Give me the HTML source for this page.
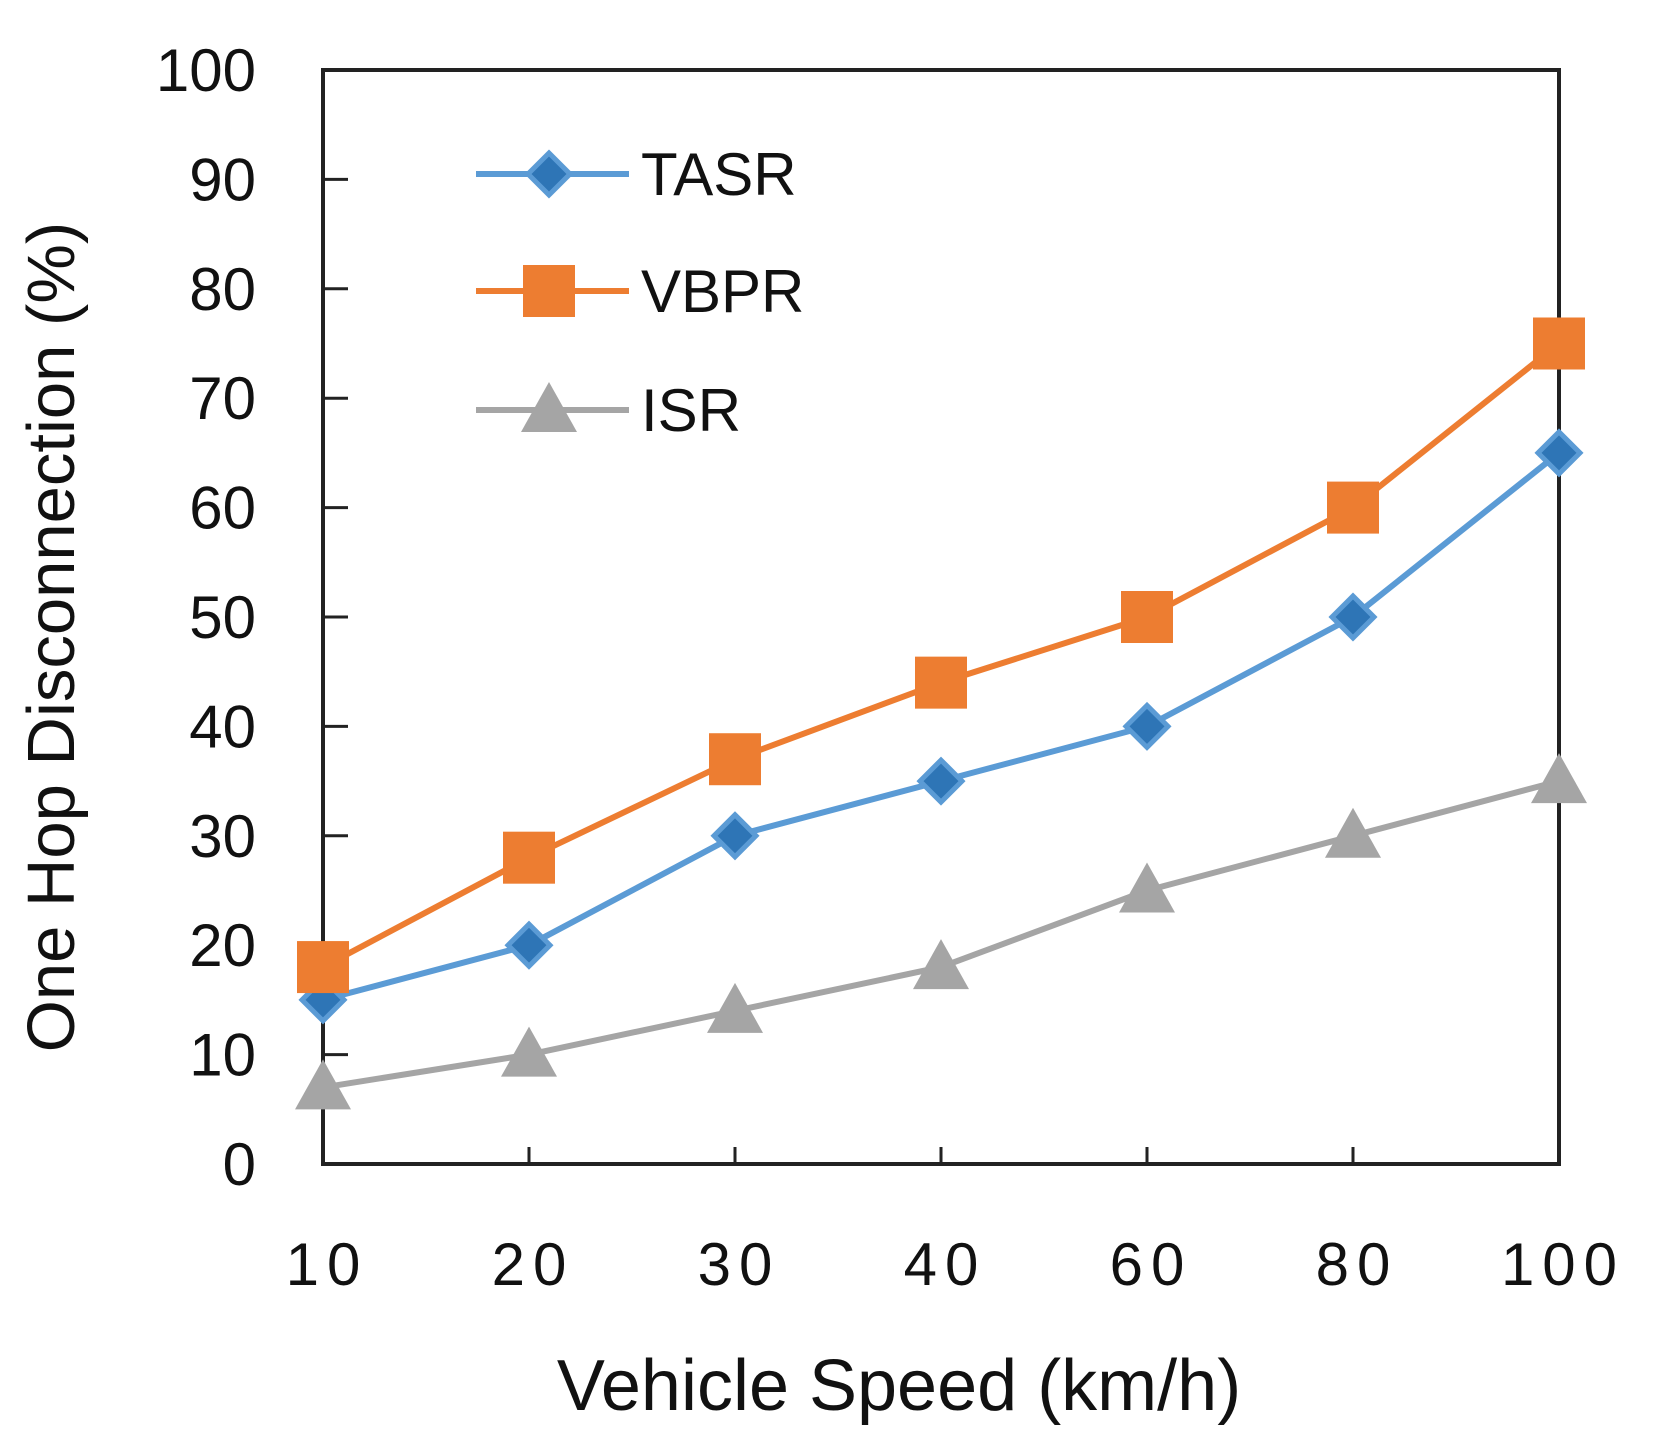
<!DOCTYPE html>
<html><head><meta charset="utf-8"><style>
html,body{margin:0;padding:0;background:#fff;}
svg{display:block;font-family:"Liberation Sans",sans-serif;}
</style></head><body>
<svg id="chart" width="1659" height="1452" viewBox="0 0 1659 1452"></svg>
<script>
const categories = ["10","20","30","40","60","80","100"];
const tasr = [15,20,30,35,40,50,65];
const vbpr = [18,28,37,44,50,60,75];
const isr = [7,10,14,18,25,30,35];
const yTicks = [0,10,20,30,40,50,60,70,80,90,100];

const L=323,R=1559,T=70,B=1164;
const NS="http://www.w3.org/2000/svg";
const svg=document.getElementById('chart');
function xS(i){return L+i*(R-L)/(categories.length-1);}
function yS(v){return B-(v/100)*(B-T);}
function mk(tag,attrs,parent){const e=document.createElementNS(NS,tag);for(const k in attrs)e.setAttribute(k,attrs[k]);(parent||svg).appendChild(e);return e;}

const box=mk('rect',{x:L,y:T,width:R-L,height:B-T,fill:'none',stroke:'#222','stroke-width':4});



yTicks.forEach(v=>{
  const t=mk('line',{x1:L,x2:L+25,y1:yS(v),y2:yS(v),stroke:'#222','stroke-width':3});
  
  
  const lb=mk('text',{x:256,y:yS(v)+21,'text-anchor':'end','font-size':60,fill:'#111'});
  lb.textContent=v;
  
  
});
categories.forEach((c,i)=>{
  const t=mk('line',{x1:xS(i),x2:xS(i),y1:B,y2:B-17,stroke:'#222','stroke-width':3});
  
  
  const lb=mk('text',{x:xS(i)+4,y:1285,'text-anchor':'middle','font-size':60,'letter-spacing':8,fill:'#111'});
  lb.textContent=c;
  
  
});

const yt=mk('text',{x:0,y:0,'text-anchor':'middle','font-size':67,fill:'#111',transform:'translate(74,637) rotate(-90)'});
yt.textContent='One Hop Disconnection (%)';


const xt=mk('text',{x:899,y:1410,'text-anchor':'middle','font-size':72,fill:'#111'});
xt.textContent='Vehicle Speed (km/h)';



function marker(type,cx,cy,g){
  if(type==='diamond') return mk('polygon',{points:`${cx},${cy-21} ${cx+21},${cy} ${cx},${cy+21} ${cx-21},${cy}`,fill:'#2E75B6',stroke:'#5B9BD5','stroke-width':5},g);
  if(type==='square') return mk('rect',{x:cx-26,y:cy-26,width:52,height:52,fill:'#ED7D31'},g);
  return mk('polygon',{points:`${cx},${cy-28} ${cx+28},${cy+22} ${cx-28},${cy+22}`,fill:'#A5A5A5'},g);
}
const series=[
  {name:'isr',label:'ISR',data:isr,color:'#A5A5A5',m:'tri',ly:410},
  {name:'tasr',label:'TASR',data:tasr,color:'#5B9BD5',m:'diamond',ly:174},
  {name:'vbpr',label:'VBPR',data:vbpr,color:'#ED7D31',m:'square',ly:291}
];
series.forEach(s=>{
  const g=mk('g',{});
  
  
  const pl=mk('polyline',{points:s.data.map((v,i)=>xS(i)+','+yS(v)).join(' '),fill:'none',stroke:s.color,'stroke-width':6,'stroke-linejoin':'round'},g);
  
  
  s.data.forEach((v,i)=>{
    const m=marker(s.m,xS(i),yS(v),g);
    
    
  });
  const lg=mk('g',{});
  
  
  mk('line',{x1:476,x2:629,y1:s.ly,y2:s.ly,stroke:s.color,'stroke-width':6},lg);
  marker(s.m,549,s.ly,lg);
  const tx=mk('text',{x:641,y:s.ly+21,'font-size':60,fill:'#111'},lg);
  tx.textContent=s.label;
});
</script>
</body></html>
